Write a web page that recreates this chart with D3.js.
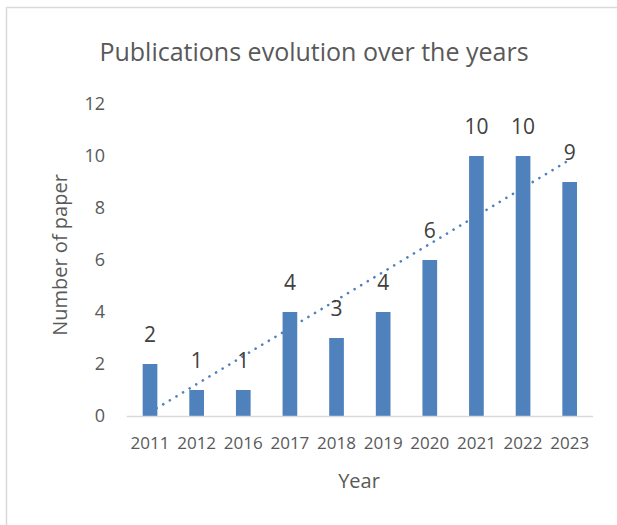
<!DOCTYPE html>
<html lang="en">
<head>
  <meta charset="UTF-8" />
  <title>Publications evolution over the years</title>
  <style>
    body {
      margin: 0;
      background: #fff;
      font-family: 'Open Sans', 'Noto Sans', sans-serif;
    }
    #chart {
      display: block;
    }
    .tick-label {
      fill: #595959;
    }
  </style>
</head>
<body>
  <svg id="chart"></svg>

  <script src="https://d3js.org/d3.v7.min.js"></script>
  <script>
    // data
    const years = ["2011", "2012", "2016", "2017", "2018", "2019", "2020", "2021", "2022", "2023"];
    const papers = [2, 1, 1, 4, 3, 4, 6, 10, 10, 9];
    const yTicks = [0, 2, 4, 6, 8, 10, 12];

    const width = 617;
    const height = 525;

    const svg = d3.select("#chart")
      .attr("width", width)
      .attr("height", height);

    // chart area border (runs off the right and bottom edge)
    svg.append("rect")
      .attr("x", 6.5)
      .attr("y", 7.5)
      .attr("width", 620)
      .attr("height", 530)
      .attr("fill", "#fff")
      .attr("stroke", "#d9d9d9")
      .attr("stroke-width", 1.5);

    const x = d3.scaleBand()
      .domain(years)
      .range([126.7, 593])
      .paddingInner(0.685)
      .paddingOuter(0.3425);

    const y = d3.scaleLinear()
      .domain([0, 12])
      .range([416, 104]);

    // title
    svg.append("text")
      .attr("x", 314)
      .attr("y", 61)
      .attr("text-anchor", "middle")
      .attr("font-size", 25)
      .attr("fill", "#595959")
      .text("Publications evolution over the years");

    // y tick labels
    svg.selectAll(".ytick")
      .data(yTicks)
      .join("text")
      .attr("class", "tick-label")
      .attr("x", 105)
      .attr("y", d => y(d))
      .attr("dy", "0.36em")
      .attr("text-anchor", "end")
      .attr("font-size", 18)
      .text(d => d);

    // bars
    svg.selectAll(".bar")
      .data(papers)
      .join("rect")
      .attr("class", "bar")
      .attr("x", (d, i) => x(years[i]))
      .attr("y", d => y(d))
      .attr("width", x.bandwidth())
      .attr("height", d => y(0) - y(d))
      .attr("fill", "#4f81bd");

    // x axis line
    svg.append("line")
      .attr("x1", 126.7)
      .attr("x2", 593)
      .attr("y1", y(0) + 0.5)
      .attr("y2", y(0) + 0.5)
      .attr("stroke", "#d9d9d9")
      .attr("stroke-width", 1.5);

    // linear trendline (least squares over category index)
    const n = papers.length;
    const idx = d3.range(1, n + 1);
    const mx = d3.mean(idx);
    const my = d3.mean(papers);
    const slope = d3.sum(idx, (k, i) => (k - mx) * (papers[i] - my)) /
                  d3.sum(idx, k => (k - mx) * (k - mx));
    const icept = my - slope * mx;
    const trend = years.map((yr, i) => [yr, icept + slope * (i + 1)]);

    svg.append("path")
      .datum(trend)
      .attr("fill", "none")
      .attr("stroke", "#4f81bd")
      .attr("stroke-width", 2.6)
      .attr("stroke-linecap", "round")
      .attr("stroke-dasharray", "0.1 7.6")
      .attr("d", d3.line()
        .x(d => x(d[0]) + x.bandwidth() / 2)
        .y(d => y(d[1])));

    // data labels
    svg.selectAll(".dlabel")
      .data(papers)
      .join("text")
      .attr("x", (d, i) => x(years[i]) + x.bandwidth() / 2)
      .attr("y", d => y(d) - 22)
      .attr("text-anchor", "middle")
      .attr("font-size", 21)
      .attr("fill", "#404040")
      .text(d => d);

    // x tick labels
    svg.selectAll(".xtick")
      .data(years)
      .join("text")
      .attr("class", "tick-label")
      .attr("x", d => x(d) + x.bandwidth() / 2)
      .attr("y", 449)
      .attr("text-anchor", "middle")
      .attr("font-size", 17)
      .text(d => d);

    // axis titles
    svg.append("text")
      .attr("x", 359)
      .attr("y", 488)
      .attr("text-anchor", "middle")
      .attr("font-size", 20)
      .attr("fill", "#595959")
      .text("Year");

    svg.append("text")
      .attr("transform", "translate(67,255) rotate(-90)")
      .attr("text-anchor", "middle")
      .attr("font-size", 20)
      .attr("fill", "#595959")
      .text("Number of paper");
  </script>
</body>
</html>
